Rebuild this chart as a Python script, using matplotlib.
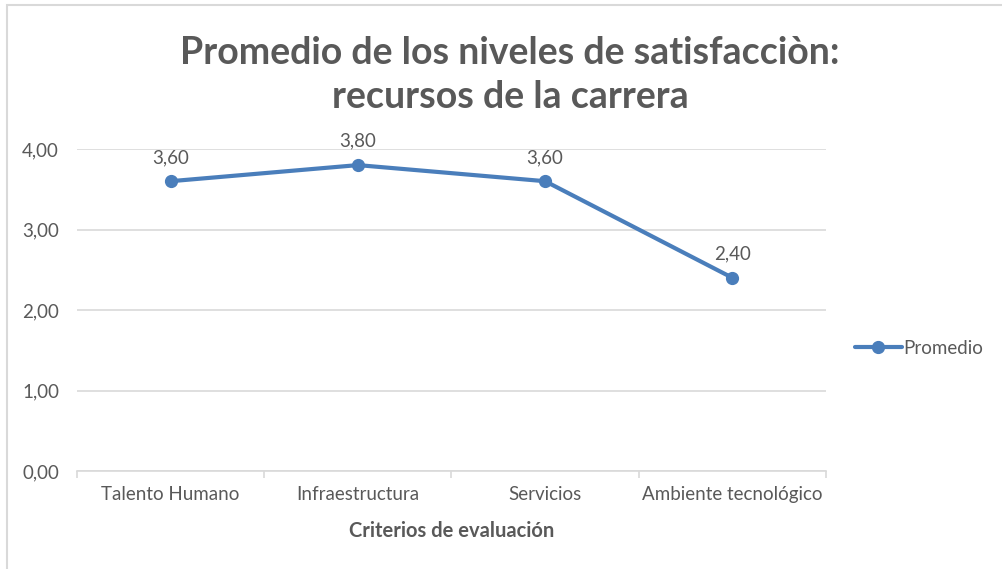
import matplotlib.pyplot as plt
import matplotlib as mpl
from matplotlib.patches import Rectangle

mpl.rcParams['font.family'] = ['Lato', 'DejaVu Sans']

categories = ['Talento Humano', 'Infraestructura', 'Servicios', 'Ambiente tecnológico']
promedio = [3.60, 3.80, 3.60, 2.40]
y_ticks = [0, 1, 2, 3, 4]

LINE_COLOR = '#4A7EBB'
TEXT_COLOR = '#595959'
GRID_COLOR = '#D9D9D9'

W, H = 1003, 569
fig = plt.figure(figsize=(W / 100, H / 100), dpi=100)

# chart border (only left/top visible in the crop)
fig.patches.append(Rectangle((7 / W, -0.1), 1.2, (H - 5) / H + 0.1,
                             transform=fig.transFigure, fill=False,
                             edgecolor='#D9D9D9', linewidth=1.5))

ax = fig.add_axes([77 / W, (H - 471) / H, (826 - 77) / W, (471 - 149) / H])
x = list(range(len(categories)))
line, = ax.plot(x, promedio, color=LINE_COLOR, linewidth=3, marker='o',
                markersize=8.5, label='Promedio', solid_capstyle='round')

for xi, v in zip(x, promedio):
    ax.annotate(f"{v:.2f}".replace('.', ','), xy=(xi, v), xytext=(0, 11),
                textcoords='offset points', ha='center', va='bottom',
                fontsize=13.5, color=TEXT_COLOR)

ax.set_xlim(-0.5, len(categories) - 0.5)
ax.set_ylim(0, 4)
ax.set_yticks(y_ticks)
ax.set_yticklabels([f"{t:.2f}".replace('.', ',') for t in y_ticks])
ax.yaxis.grid(True, color=GRID_COLOR, linewidth=1.2)
ax.set_axisbelow(True)
ax.tick_params(axis='y', length=0, pad=13, labelsize=13.5, labelcolor=TEXT_COLOR)

ax.set_xticks(x)
ax.set_xticklabels(categories)
ax.set_xticks([i - 0.5 for i in range(len(categories) + 1)], minor=True)
ax.tick_params(axis='x', which='major', length=0, pad=11, labelsize=13.5, labelcolor=TEXT_COLOR)
ax.tick_params(axis='x', which='minor', length=5, color=GRID_COLOR, width=1.2)

for s in ['top', 'right', 'left']:
    ax.spines[s].set_visible(False)
ax.spines['bottom'].set_color(GRID_COLOR)
ax.spines['bottom'].set_linewidth(1.2)

ax.set_xlabel('Criterios de evaluación', fontsize=14.5, fontweight='bold',
              color=TEXT_COLOR, labelpad=13)

fig.text(510 / W, 1 - 75 / H, 'Promedio de los niveles de satisfacciòn:\nrecursos de la carrera',
         ha='center', va='center', fontsize=27, fontweight='bold', color=TEXT_COLOR,
         linespacing=1.38)

leg = fig.legend(handles=[line], loc='center left', bbox_to_anchor=(838 / W, 1 - 348 / H),
                 frameon=False, fontsize=13.5, handlelength=2.5, handletextpad=0.1,
                 labelcolor=TEXT_COLOR)

fig.savefig('out.png', dpi=100)
